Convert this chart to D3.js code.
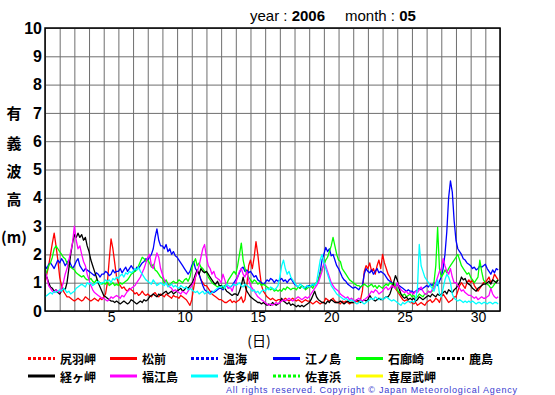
<!DOCTYPE html>
<html><head><meta charset="utf-8">
<script src="https://cdn.jsdelivr.net/npm/d3@7"></script>
<style>body{margin:0;background:#fff}svg{display:block}</style>
</head><body><svg id="c" width="555" height="395"></svg>
<script>
// ---- data (3-hourly significant wave height, May 2006) ----
const yearLabel = "2006";
const monthLabel = "05";
const xTickDays = [5,10,15,20,25,30];
const yTicks = [0,1,2,3,4,5,6,7,8,9,10];
const stationNames = ["尻羽岬","松前","温海","江ノ島","石廊崎","鹿島","経ヶ岬","福江島","佐多岬","佐喜浜","喜屋武岬"];
const stationColors = ["#ff0000","#ff0000","#0000ff","#0000ff","#00ff00","#000000","#000000","#ff00ff","#00ffff","#00ff00","#ffff00"];
const stationDashed = [true,false,true,false,false,true,false,false,false,true,false];

const shiriha = [];
const atsumi = [];
const kashima = [];
const sakihama = [];
const kyan = [];
const matsumae = [
1.0,1.3,1.6,2.0,2.4,2.75,2.3,1.8, 1.2,0.9,0.7,0.6,0.5,0.5,0.45,0.4,
0.35,0.4,0.45,0.4,0.35,0.4,0.5,0.45, 0.4,0.35,0.4,0.45,0.4,0.35,0.45,0.4,
0.5,0.6,1.0,1.8,2.55,2.2,1.7,1.2, 1.0,0.9,0.8,0.85,0.75,0.7,0.8,0.75,
0.7,0.6,0.65,0.55,0.6,0.7,0.6,0.55, 0.6,0.55,0.5,0.6,0.65,0.55,0.5,0.6,
0.55,0.5,0.6,0.55,0.5,0.45,0.55,0.5, 0.5,0.45,0.55,0.5,0.45,0.4,0.3,0.2,
0.4,0.8,1.2,1.4,1.3,1.1,1.0,0.9, 0.9,0.8,0.7,0.6,0.55,0.5,0.45,0.4,
0.4,0.35,0.3,0.3,0.35,0.4,0.3,0.35, 0.3,0.35,0.4,0.5,0.3,0.4,0.9,1.6,
1.8,1.5,1.9,2.45,2.0,1.4,0.9,0.7, 0.6,0.5,0.45,0.4,0.45,0.4,0.35,0.4,
0.4,0.35,0.4,0.45,0.4,0.35,0.4,0.45, 0.4,0.35,0.4,0.35,0.3,0.35,0.4,0.35,
0.35,0.3,0.25,0.3,0.35,0.3,0.25,0.3, 0.3,0.45,0.4,0.35,0.4,0.45,0.35,0.3,
0.3,0.25,0.35,0.3,0.35,0.3,0.25,0.3, 0.3,0.3,0.35,0.3,0.4,0.7,1.4,1.6,
1.5,1.7,1.4,1.5,1.3,1.6,1.8,1.5, 2.0,1.7,1.5,1.3,1.2,1.0,0.9,0.8,
0.7,0.6,0.5,0.4,0.35,0.4,0.35,0.3, 0.3,0.25,0.3,0.2,0.25,0.3,0.25,0.2,
0.3,0.35,0.4,0.3,0.35,0.45,0.4,0.3, 0.5,0.6,0.5,0.4,0.3,0.35,0.4,0.5,
0.5,0.7,0.9,1.0,0.9,0.8,1.0,1.1, 1.0,1.1,0.9,0.8,0.7,0.8,0.9,1.0,
1.0,1.1,1.2,1.0,1.1,1.3,1.2,1.1];
const enoshima = [
1.6,1.5,1.65,1.7,1.6,1.5,1.65,1.8, 1.7,1.85,1.75,1.6,1.7,1.8,1.65,1.5,
1.6,1.75,1.85,1.6,1.5,1.4,1.5,1.45, 1.4,1.35,1.3,1.25,1.35,1.3,1.2,1.3,
1.3,1.4,1.35,1.25,1.3,1.45,1.35,1.4, 1.4,1.5,1.35,1.45,1.55,1.4,1.5,1.6,
1.5,1.4,1.55,1.5,1.6,1.7,1.75,1.85, 1.8,1.9,2.0,2.2,2.6,2.9,2.5,2.3,
2.3,2.2,2.35,2.1,2.2,2.0,2.1,1.95, 1.9,1.8,1.7,1.6,1.5,1.4,1.3,1.4,
1.6,1.75,1.5,1.4,1.3,1.1,0.9,0.75, 0.7,0.65,0.6,0.7,0.65,0.7,0.75,0.8,
0.8,0.75,0.85,0.9,0.8,0.85,0.9,1.0, 1.1,1.2,1.35,1.5,1.55,1.4,1.45,1.35,
1.4,1.3,1.2,1.25,1.1,1.05,1.0,0.95, 1.0,1.1,1.05,1.15,1.1,1.0,1.1,1.05,
1.1,1.15,1.05,1.1,1.0,1.1,1.15,1.05, 0.95,0.9,0.85,0.8,0.9,0.85,0.8,0.9,
0.9,0.85,0.95,0.9,1.0,1.1,1.4,1.8, 2.0,2.25,2.1,2.2,1.95,2.0,1.8,1.6,
1.5,1.35,1.2,1.1,1.05,0.95,0.9,0.85, 0.8,0.85,0.8,0.75,0.85,0.9,1.3,1.5,
1.4,1.35,1.45,1.3,1.4,1.5,1.35,1.4, 1.35,1.3,1.2,1.1,1.05,1.0,0.95,0.9,
0.95,0.9,0.85,0.8,0.75,0.7,0.75,0.7, 0.7,0.65,0.7,0.75,0.8,0.75,0.8,0.85,
0.9,0.85,0.95,0.9,1.0,0.95,0.9,1.05, 1.2,1.5,2.0,2.8,4.0,4.6,4.2,3.2,
2.5,2.2,2.1,2.0,1.85,1.8,1.7,1.65, 1.6,1.5,1.55,1.45,1.5,1.6,1.55,1.6,
1.65,1.5,1.4,1.3,1.45,1.35,1.5,1.45];
const irozaki = [
1.2,1.4,1.6,1.7,1.9,2.2,2.3,2.2, 2.1,2.0,1.9,1.85,1.7,1.6,1.55,1.5,
1.45,1.35,1.3,1.25,1.2,1.25,1.15,1.1, 1.1,1.15,1.05,1.0,1.1,1.05,1.0,0.95,
1.0,0.95,1.05,0.9,0.95,1.0,0.9,0.95, 0.9,1.0,0.95,1.0,1.05,1.1,1.2,1.3,
1.35,1.4,1.45,1.6,1.75,1.9,1.85,1.75, 1.8,1.7,1.55,1.65,1.45,1.4,1.3,1.2,
1.15,1.0,1.1,0.95,0.9,1.0,1.05,1.0, 1.0,1.1,1.05,1.0,1.1,1.15,1.05,1.2,
1.5,1.7,1.85,1.6,1.7,1.55,1.5,1.4, 1.35,1.2,1.1,1.0,0.95,0.9,0.85,0.9,
0.85,0.8,0.9,0.95,1.1,1.2,1.3,1.4, 1.3,1.6,2.0,2.4,1.8,1.5,1.3,1.2,
1.1,1.0,1.1,1.05,0.95,1.0,0.9,0.95, 0.9,0.85,0.8,0.75,0.8,0.7,0.75,0.7,
0.75,0.7,0.8,0.75,0.85,0.8,0.75,0.8, 0.8,0.75,0.85,0.8,0.9,0.85,0.75,0.8,
0.85,0.9,0.8,0.95,1.0,1.1,1.3,1.5, 1.6,1.8,1.9,2.1,2.3,2.6,2.3,2.0,
1.8,1.75,1.5,1.4,1.3,1.2,1.1,1.05, 1.0,0.95,0.9,0.9,0.85,0.9,0.95,0.9,
0.85,0.9,0.95,0.85,0.9,0.8,0.9,0.85, 0.8,0.9,0.95,0.9,1.0,0.95,1.0,0.9,
0.75,0.65,0.6,0.55,0.6,0.5,0.55,0.6, 0.5,0.55,0.45,0.5,0.6,0.55,0.5,0.6,
0.6,0.7,0.65,0.7,1.0,1.6,2.95,1.5, 1.2,1.3,1.45,1.35,1.5,1.6,1.7,1.8,
1.9,2.0,1.8,1.6,1.5,1.4,1.3,1.35, 1.2,1.1,1.0,1.1,1.2,1.8,1.4,1.1,
1.0,0.95,0.9,0.8,0.85,0.95,1.05,1.1];
const kyogamisaki = [
1.3,1.2,1.0,0.85,0.8,0.7,0.75,0.65, 0.6,0.7,0.8,0.75,1.0,1.5,2.0,2.4,
2.7,2.6,2.75,2.6,2.7,2.5,2.6,2.3, 2.1,1.8,1.6,1.4,1.2,1.0,0.85,0.7,
0.55,0.5,0.45,0.4,0.35,0.35,0.3,0.35, 0.3,0.25,0.3,0.35,0.3,0.25,0.3,0.4,
0.35,0.3,0.25,0.3,0.35,0.3,0.4,0.35, 0.4,0.5,0.55,0.6,0.55,0.5,0.6,0.55,
0.6,0.65,0.7,0.6,0.65,0.7,0.6,0.65, 0.7,0.75,0.8,0.7,0.75,0.85,0.8,0.9,
0.95,1.1,1.3,1.45,1.3,1.5,1.4,1.35, 1.4,1.3,1.2,1.1,1.0,0.95,1.05,0.9,
0.9,0.85,0.8,0.7,0.65,0.6,0.55,0.6, 0.6,0.55,0.7,0.9,1.2,0.9,0.7,0.6,
0.5,0.45,0.4,0.35,0.3,0.3,0.25,0.3, 0.25,0.2,0.25,0.2,0.3,0.25,0.2,0.25,
0.3,0.45,0.35,0.3,0.25,0.3,0.2,0.25, 0.2,0.15,0.2,0.15,0.2,0.15,0.2,0.25,
0.3,0.4,0.55,0.7,0.5,0.4,0.35,0.3, 0.3,0.25,0.35,0.3,0.4,0.35,0.3,0.3,
0.3,0.35,0.3,0.25,0.3,0.35,0.3,0.3, 0.3,0.35,0.4,0.35,0.3,0.35,0.4,0.35,
0.4,0.55,0.45,0.4,0.35,0.4,0.45,0.4, 0.4,0.45,0.5,0.5,0.6,0.8,1.0,1.25,
1.1,0.8,0.6,0.5,0.45,0.5,0.4,0.45, 0.4,0.45,0.35,0.4,0.5,0.45,0.4,0.45,
0.5,0.55,0.5,0.6,0.55,0.5,0.6,0.55, 0.6,0.65,0.7,0.6,0.75,0.7,0.65,0.75,
0.8,0.9,1.0,1.2,1.1,1.15,1.0,0.95, 0.9,0.8,0.75,0.7,0.8,0.85,0.9,0.95,
0.95,1.0,1.05,0.95,1.1,1.05,1.0,1.1];
const fukuejima = [
1.4,1.2,0.9,0.8,0.7,0.65,0.75,0.7, 0.65,0.8,1.0,1.3,1.5,1.8,2.1,2.4,
3.0,2.5,2.2,2.3,2.0,1.75,1.6,1.3, 1.1,0.9,0.75,0.65,0.6,0.55,0.5,0.45,
0.45,0.4,0.35,0.4,0.5,0.45,0.5,0.55, 0.5,0.45,0.55,0.5,0.6,0.7,0.75,0.8,
0.85,0.9,1.0,1.1,1.2,1.35,1.5,1.7, 1.9,2.0,1.6,1.5,1.8,2.05,1.9,1.5,
1.3,1.1,1.0,0.9,0.85,0.8,0.7,0.75, 0.7,0.65,0.6,0.7,0.65,0.6,0.7,0.8,
0.9,1.0,1.2,1.4,1.6,1.9,2.2,2.35, 1.9,1.6,1.5,1.3,1.4,1.2,1.15,1.1,
1.0,1.3,1.1,0.9,0.8,0.85,0.7,0.9, 1.0,1.2,1.4,1.5,1.3,1.2,1.4,1.1,
0.9,0.8,0.7,0.6,0.5,0.45,0.4,0.35, 0.3,0.25,0.2,0.25,0.2,0.25,0.3,0.25,
0.3,0.35,0.4,0.35,0.4,0.45,0.4,0.35, 0.4,0.45,0.5,0.45,0.4,0.45,0.5,0.45,
0.5,0.6,0.7,0.8,0.9,1.0,1.2,1.4, 1.7,1.6,1.4,1.2,1.0,0.9,0.8,0.75,
0.7,0.6,0.55,0.5,0.45,0.5,0.4,0.45, 0.4,0.35,0.4,0.45,0.4,0.35,0.4,0.45,
0.5,0.6,0.7,0.65,0.75,0.7,0.6,0.65, 0.7,0.8,0.85,0.75,0.8,0.9,0.85,0.8,
1.0,0.85,0.75,0.7,0.65,0.7,0.6,0.65, 0.65,0.6,0.7,0.65,0.75,0.85,0.7,0.6,
0.6,0.7,0.65,0.75,0.8,1.0,1.2,1.4, 1.5,1.85,1.6,1.4,1.3,1.5,1.2,1.0,
1.0,0.9,0.8,0.7,0.75,0.65,0.6,0.55, 0.55,0.5,0.45,0.5,0.4,0.45,0.5,0.45,
0.45,0.5,0.55,0.8,0.6,0.5,0.45,0.5];
const satamisaki = [
0.5,0.55,0.6,0.65,0.6,0.7,0.65,0.7, 0.75,0.7,0.8,0.75,0.65,0.7,0.6,0.65,
0.7,0.8,0.85,0.9,0.95,0.9,0.85,1.0, 0.95,1.0,0.9,0.95,1.0,1.05,0.95,1.0,
1.0,1.1,1.05,1.1,1.0,1.15,1.1,1.2, 1.15,1.25,1.3,1.2,1.35,1.3,1.4,1.35,
1.4,1.5,1.45,1.55,1.4,1.3,1.2,1.1, 1.05,1.0,0.95,1.1,1.0,0.9,0.95,1.0,
0.95,0.9,1.0,0.85,0.9,0.95,0.85,0.9, 0.85,0.8,0.9,0.85,0.8,0.85,0.75,0.8,
0.75,0.7,0.65,0.7,0.6,0.65,0.7,0.6, 0.65,0.7,0.6,0.65,0.7,0.75,0.8,0.85,
0.85,0.9,0.8,0.95,0.9,0.85,0.9,0.95, 0.9,0.95,1.0,0.9,0.85,0.95,0.9,0.85,
0.8,0.7,0.75,0.65,0.7,0.6,0.7,0.75, 0.7,0.8,0.75,0.85,0.8,0.75,0.8,0.9,
1.2,1.6,1.8,1.5,1.3,1.4,1.2,1.1, 1.0,0.9,0.85,0.95,0.9,0.8,0.85,0.9,
0.85,0.9,0.95,0.9,1.0,1.4,1.8,2.0, 1.7,1.5,1.3,1.1,0.9,0.8,0.7,0.6,
0.55,0.5,0.45,0.4,0.45,0.4,0.35,0.4, 0.35,0.3,0.25,0.3,0.35,0.3,0.25,0.3,
0.35,0.4,0.45,0.4,0.5,0.45,0.4,0.45, 0.4,0.45,0.5,0.45,0.4,0.35,0.4,0.35,
0.3,0.25,0.2,0.3,0.25,0.3,0.35,0.3, 0.35,0.3,0.4,0.8,2.35,1.6,1.4,1.2,
1.1,1.0,0.9,0.8,0.7,0.9,1.1,0.6, 0.5,0.8,1.1,1.3,1.2,1.0,0.6,0.45,
0.4,0.35,0.4,0.35,0.3,0.35,0.3,0.35, 0.3,0.35,0.3,0.25,0.3,0.3,0.25,0.3,
0.3,0.25,0.3,0.3,0.25,0.3,0.3,0.25];

const seriesValues = [shiriha, matsumae, atsumi, enoshima, irozaki, kashima, kyogamisaki, fukuejima, satamisaki, sakihama, kyan];
const stepsPerDay = 8;
const daysInMonth = 31;

// ---- drawing ----
const svg = d3.select("#c");
const L = 45, R = 500, T = 28, B = 311;
const x = d3.scaleLinear().domain([0, daysInMonth]).range([L, R]);
const y = d3.scaleLinear().domain([0, 10]).range([B, T]);

// grid
const gx = svg.append("g").attr("transform", `translate(0,${B})`)
  .call(d3.axisBottom(x).tickValues(d3.range(0, daysInMonth + 1)).tickSize(-(B - T)).tickFormat(""));
gx.select(".domain").remove();
gx.selectAll("line").attr("stroke", "#6e6e6e").attr("stroke-width", 1);
const gy = svg.append("g").attr("transform", `translate(${L},0)`)
  .call(d3.axisLeft(y).tickValues(yTicks).tickSize(-(R - L)).tickFormat(""));
gy.select(".domain").remove();
gy.selectAll("line").attr("stroke", "#6e6e6e").attr("stroke-width", 1);

// data lines
const line = d3.line().x((d, i) => x(i / stepsPerDay)).y(d => y(d));
svg.append("defs").append("clipPath").attr("id", "pc")
  .append("rect").attr("x", L).attr("y", T).attr("width", R - L).attr("height", B - T);
const gl = svg.append("g").attr("clip-path", "url(#pc)");
seriesValues.forEach((vals, k) => {
  if (!vals.length) return;
  gl.append("path").datum(vals).attr("d", line).attr("fill", "none")
    .attr("stroke", stationColors[k]).attr("stroke-width", 1.3)
    .attr("stroke-dasharray", stationDashed[k] ? "3,2" : null)
    .attr("stroke-linejoin", "round");
});

// frame
svg.append("rect").attr("x", L).attr("y", T).attr("width", R - L).attr("height", B - T)
  .attr("fill", "none").attr("stroke", "#000").attr("stroke-width", 1.5);

// y tick labels
const ya = svg.append("g").attr("transform", `translate(${L - 2},0)`)
  .call(d3.axisLeft(y).tickValues(yTicks).tickSize(0).tickPadding(1).tickFormat(d3.format("d")));
ya.select(".domain").remove();
ya.selectAll("text").attr("font-family", "Liberation Sans, Arial, sans-serif")
  .attr("font-size", 16).attr("font-weight", "bold").attr("fill", "#000");

// x tick labels (day centres)
const xa = svg.append("g").attr("transform", `translate(0,${B})`)
  .call(d3.axisBottom(x).tickValues(xTickDays.map(d => d - 0.5)).tickSize(0).tickPadding(1)
    .tickFormat((d, i) => xTickDays[i]));
xa.select(".domain").remove();
xa.selectAll("text").attr("font-family", "Liberation Sans, Arial, sans-serif")
  .attr("font-size", 14).attr("fill", "#000");

// axis titles
const cjk = "'Noto Sans CJK JP', 'Noto Sans CJK SC', sans-serif";
const ytitle = [["有",112],["義",142],["波",170],["高",198],["(m)",236]];
ytitle.forEach(([t, cy]) => {
  svg.append("text").attr("x", 14).attr("y", cy).attr("text-anchor", "middle")
    .attr("dominant-baseline", "central").attr("font-family", cjk).attr("font-size", 15)
    .attr("font-weight", "bold").text(t);
});
svg.append("text").attr("x", 259).attr("y", 339.5).attr("text-anchor", "middle")
  .attr("dominant-baseline", "central").attr("font-family", cjk).attr("font-size", 14)
  .text("(日)");

// title
const tt = svg.append("text").attr("x", 250).attr("y", 21)
  .attr("font-family", "Liberation Sans, Arial, sans-serif").attr("font-size", 15).attr("fill", "#000");
tt.append("tspan").text("year : ");
tt.append("tspan").attr("font-weight", "bold").text(yearLabel);
tt.append("tspan").attr("x", 345).text("month : ");
tt.append("tspan").attr("font-weight", "bold").text(monthLabel);

// legend
const colX = [28, 110, 191, 273, 356, 437];
const rowY = [358.5, 376];
stationNames.forEach((name, k) => {
  const cx = colX[k % 6], cy = rowY[Math.floor(k / 6)];
  svg.append("line").attr("x1", cx).attr("x2", cx + 27).attr("y1", cy).attr("y2", cy)
    .attr("stroke", stationColors[k]).attr("stroke-width", 3)
    .attr("stroke-dasharray", stationDashed[k] ? "3,2" : null);
  svg.append("text").attr("x", cx + 32).attr("y", cy).attr("dominant-baseline", "central")
    .attr("font-family", cjk).attr("font-size", 12).attr("font-weight", "bold").text(name);
});

// copyright
svg.append("text").attr("x", 226).attr("y", 393).attr("textLength", 291)
  .attr("lengthAdjust", "spacing")
  .attr("font-family", "Liberation Sans, Arial, sans-serif").attr("font-size", 9)
  .attr("fill", "#3a3ad0").text("All rights reserved. Copyright © Japan Meteorological Agency");
</script></body></html>
